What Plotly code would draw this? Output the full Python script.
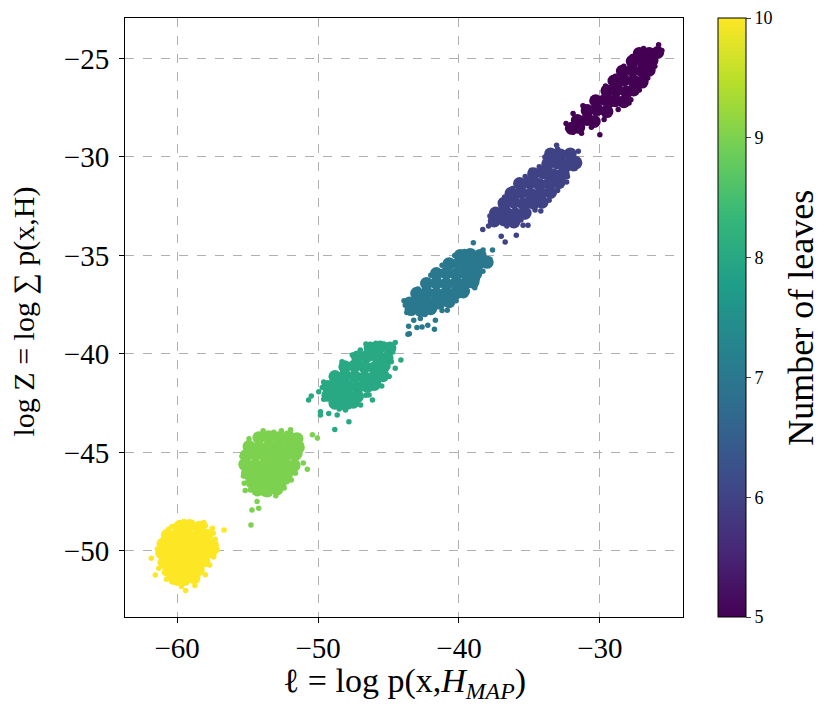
import plotly.graph_objects as go

# number of leaves for each cloud of points
leaves = [5, 6, 7, 8, 9, 10]

# dense middle of every cloud, (l, log Z)
core_5 = [(-27.2, -24.75), (-26.5, -24.75), (-25.9, -24.7),
          (-27.7, -25.15), (-27.0, -25.15), (-26.3, -25.1),
          (-28.4, -25.65), (-27.7, -25.6), (-27.0, -25.65), (-26.5, -25.6),
          (-29.0, -26.15), (-28.3, -26.1), (-27.6, -26.15), (-27.0, -26.2),
          (-29.5, -26.65), (-28.8, -26.6), (-28.1, -26.7), (-27.6, -26.6),
          (-30.3, -27.15), (-29.6, -27.1), (-28.9, -27.15), (-28.3, -27.2),
          (-30.9, -27.65), (-30.2, -27.6), (-29.5, -27.7),
          (-31.6, -28.15), (-30.9, -28.1), (-30.4, -28.2),
          (-32.0, -28.55), (-31.5, -28.5)]
core_6 = [(-33.5, -29.85), (-32.8, -29.9), (-32.1, -29.85),
          (-33.7, -30.35), (-33.0, -30.3), (-32.3, -30.4), (-31.7, -30.3),
          (-34.7, -30.85), (-34.0, -30.8), (-33.3, -30.9), (-32.6, -30.85),
          (-35.7, -31.35), (-35.0, -31.3), (-34.3, -31.4), (-33.6, -31.35), (-32.9, -31.3),
          (-36.3, -31.85), (-35.6, -31.8), (-34.9, -31.9), (-34.2, -31.85), (-33.5, -31.8),
          (-36.8, -32.35), (-36.1, -32.3), (-35.4, -32.4), (-34.7, -32.35), (-34.1, -32.3),
          (-37.4, -32.85), (-36.7, -32.8), (-36.0, -32.9), (-35.3, -32.85),
          (-37.5, -33.25), (-36.8, -33.2), (-36.1, -33.3)]
core_7 = [(-39.9, -35.0), (-39.2, -34.95), (-38.5, -35.0),
          (-40.7, -35.42), (-40.0, -35.4), (-39.3, -35.45), (-38.6, -35.4), (-38.0, -35.35),
          (-41.6, -35.92), (-40.9, -35.9), (-40.2, -35.95), (-39.5, -35.9), (-38.8, -35.92),
          (-42.3, -36.42), (-41.6, -36.4), (-40.9, -36.45), (-40.2, -36.42), (-39.5, -36.4), (-39.0, -36.35),
          (-43.0, -36.92), (-42.3, -36.9), (-41.6, -36.95), (-40.9, -36.92), (-40.2, -36.9), (-39.7, -36.85),
          (-43.5, -37.42), (-42.8, -37.4), (-42.1, -37.45), (-41.4, -37.42), (-40.7, -37.35),
          (-43.4, -37.75), (-42.7, -37.8), (-42.0, -37.7)]
core_8 = [(-46.3, -39.7), (-45.6, -39.65), (-44.9, -39.7),
          (-47.2, -40.15), (-46.5, -40.1), (-45.8, -40.15), (-45.1, -40.2),
          (-48.1, -40.65), (-47.4, -40.6), (-46.7, -40.65), (-46.0, -40.7), (-45.3, -40.6),
          (-48.8, -41.15), (-48.1, -41.1), (-47.4, -41.15), (-46.7, -41.2), (-46.0, -41.15), (-45.4, -41.1),
          (-49.3, -41.65), (-48.6, -41.6), (-47.9, -41.65), (-47.2, -41.7), (-46.5, -41.65), (-46.0, -41.55),
          (-49.3, -42.1), (-48.6, -42.05), (-47.9, -42.1), (-47.2, -42.15),
          (-48.8, -42.5), (-48.1, -42.55), (-47.5, -42.45)]
core_9 = [(-54.2, -44.25), (-53.5, -44.2), (-52.8, -44.25), (-52.1, -44.2), (-51.5, -44.3),
          (-54.9, -44.7), (-54.2, -44.75), (-53.5, -44.7), (-52.8, -44.65), (-52.1, -44.7), (-51.4, -44.75),
          (-55.1, -45.15), (-54.4, -45.1), (-53.7, -45.15), (-53.0, -45.2), (-52.3, -45.15), (-51.6, -45.1),
          (-55.2, -45.6), (-54.5, -45.65), (-53.8, -45.6), (-53.1, -45.55), (-52.4, -45.6), (-51.7, -45.65),
          (-55.0, -46.05), (-54.3, -46.1), (-53.6, -46.05), (-52.9, -46.0), (-52.2, -46.05),
          (-54.7, -46.5), (-54.0, -46.55), (-53.3, -46.5), (-52.6, -46.45),
          (-54.3, -46.9), (-53.6, -46.95), (-52.9, -46.85)]
core_10 = [(-59.8, -48.75), (-59.1, -48.7), (-58.4, -48.8),
           (-60.7, -49.2), (-60.0, -49.15), (-59.3, -49.2), (-58.6, -49.25), (-57.9, -49.2),
           (-61.0, -49.65), (-60.3, -49.6), (-59.6, -49.7), (-58.9, -49.65), (-58.2, -49.6), (-57.5, -49.7),
           (-61.1, -50.1), (-60.4, -50.05), (-59.7, -50.1), (-59.0, -50.15), (-58.3, -50.1), (-57.6, -50.05),
           (-60.9, -50.55), (-60.2, -50.5), (-59.5, -50.6), (-58.8, -50.55), (-58.1, -50.5),
           (-60.6, -51.0), (-59.9, -51.05), (-59.2, -51.0), (-58.5, -50.95),
           (-60.2, -51.4), (-59.5, -51.45), (-58.8, -51.35)]

# scattered points round the edges of every cloud
edge_5 = [(-32.29, -28.54), (-31.9, -28.75), (-30.0, -28.88), (-25.83, -24.31),
          (-26.57, -24.68), (-25.9, -24.64), (-31.14, -27.44), (-29.24, -27.36),
          (-27.93, -27.27), (-27.1, -26.17), (-26.57, -25.49), (-26.14, -25.07),
          (-31.02, -28.03), (-28.52, -25.83), (-27.45, -24.85), (-31.5, -28.29),
          (-30.43, -28.12), (-29.0, -26.93),
          (-32.4, -28.3), (-31.9, -27.8), (-31.2, -27.4), (-30.4, -27.0),
          (-29.6, -26.4), (-28.9, -25.9), (-28.3, -25.4), (-27.7, -24.9),
          (-26.9, -24.5), (-25.6, -24.6), (-26.1, -25.4), (-26.6, -26.0),
          (-27.2, -26.6), (-27.8, -27.1), (-28.7, -27.6), (-29.7, -28.1),
          (-30.6, -28.5), (-31.3, -28.8)]
edge_6 = [(-38.31, -33.69), (-37.0, -34.03), (-36.72, -34.32), (-35.93, -33.98),
          (-35.45, -33.47), (-35.1, -33.47), (-34.19, -32.75), (-33.07, -29.41),
          (-31.53, -29.71), (-35.86, -31.32), (-32.36, -31.27), (-37.6, -32.88),
          (-32.12, -29.75), (-31.76, -30.59), (-32.48, -30.85), (-34.62, -32.54),
          (-35.33, -33.05), (-37.72, -33.31), (-36.76, -32.03), (-34.86, -30.68),
          (-33.55, -29.83),
          (-37.8, -33.0), (-37.9, -33.5), (-37.0, -32.5), (-36.2, -31.6),
          (-35.3, -31.0), (-34.3, -30.5), (-33.9, -30.0), (-33.0, -29.6),
          (-31.6, -30.1), (-31.9, -30.6), (-32.3, -31.0), (-33.0, -31.7),
          (-33.6, -32.2), (-34.6, -32.7), (-35.6, -33.2), (-36.6, -33.5)]
edge_7 = [(-43.57, -38.59), (-43.52, -38.97), (-42.98, -38.66), (-42.62, -38.63),
          (-42.21, -38.54), (-41.74, -38.75), (-43.21, -38.29), (-42.74, -38.2),
          (-41.67, -38.29), (-40.83, -37.78), (-39.64, -36.93), (-38.88, -36.64),
          (-38.98, -34.36), (-37.62, -34.73), (-43.81, -37.53), (-38.29, -34.73),
          (-38.1, -35.41), (-39.52, -36.42), (-40.71, -37.27), (-42.14, -37.86),
          (-43.62, -39.0),
          (-43.9, -37.3), (-43.7, -37.9), (-42.9, -36.7), (-42.0, -36.0),
          (-41.2, -35.5), (-40.3, -35.0), (-39.6, -34.8), (-38.6, -34.85),
          (-37.8, -35.2), (-38.3, -35.8), (-38.7, -36.2), (-39.4, -36.8),
          (-40.2, -37.3), (-41.2, -37.8), (-42.4, -38.0)]
edge_8 = [(-50.67, -42.34), (-50.48, -42.14), (-49.83, -42.93), (-49.83, -43.1),
          (-49.24, -43.02), (-48.64, -43.1), (-47.81, -43.44), (-48.05, -42.85),
          (-46.98, -42.59), (-46.14, -42.34), (-45.48, -41.63), (-44.52, -40.73),
          (-44.12, -40.31), (-44.52, -39.42), (-48.81, -43.83), (-49.95, -41.92),
          (-45.9, -39.46), (-45.31, -39.49), (-47.57, -40.05), (-49.6, -41.42),
          (-46.38, -42.08), (-44.95, -41.15), (-47.81, -42.68),
          (-49.7, -41.7), (-49.6, -42.3), (-48.3, -40.4), (-47.0, -39.8),
          (-46.6, -39.5), (-44.7, -39.9), (-44.8, -40.4), (-45.2, -41.0),
          (-45.7, -41.4), (-46.6, -42.1), (-47.3, -42.5), (-48.5, -42.8)]
edge_9 = [(-54.33, -47.49), (-54.21, -47.83), (-54.69, -47.92), (-54.76, -48.68),
          (-55.17, -46.93), (-50.76, -45.85), (-50.4, -44.1), (-50.05, -44.27),
          (-51.95, -43.85), (-53.14, -43.98), (-51.05, -45.54), (-51.24, -44.27),
          (-55.24, -46.56), (-55.29, -45.54), (-54.52, -44.69), (-52.19, -46.47),
          (-53.38, -46.98), (-53.86, -47.1), (-51.6, -46.05), (-54.1, -44.36),
          (-55.4, -45.2), (-55.3, -46.2), (-54.9, -44.3), (-53.9, -43.9),
          (-52.6, -43.9), (-51.2, -44.6), (-51.3, -45.1), (-51.9, -46.4),
          (-52.4, -46.8), (-53.0, -47.2), (-54.8, -46.9)]
edge_10 = [(-61.55, -51.22), (-59.4, -52.0), (-58.74, -51.75), (-56.67, -48.93),
           (-60.76, -51.44), (-61.83, -50.37), (-57.5, -48.85), (-58.1, -48.56),
           (-60.0, -51.64), (-60.36, -48.76), (-60.95, -49.27), (-57.26, -49.78),
           (-57.14, -49.95), (-57.69, -50.71), (-58.33, -51.05), (-61.3, -50.88),
           (-61.2, -49.78), (-59.52, -48.5), (-59.05, -51.22), (-57.43, -49.1),
           (-61.4, -49.9), (-61.2, -50.6), (-60.6, -48.9), (-58.0, -48.7),
           (-57.3, -49.4), (-57.4, -50.3), (-58.0, -51.2), (-60.9, -51.1),
           (-59.7, -51.8), (-58.6, -51.5)]

x_ticks = [-60, -50, -40, -30]
y_ticks = [-25, -30, -35, -40, -45, -50]
cbar_ticks = [5, 6, 7, 8, 9, 10]

cores = [core_5, core_6, core_7, core_8, core_9, core_10]
edges = [edge_5, edge_6, edge_7, edge_8, edge_9, edge_10]

def flatten(groups):
    xs, ys, cs = [], [], []
    for n, pts in zip(leaves, groups):
        for px, py in pts:
            xs.append(px)
            ys.append(py)
            cs.append(n)
    return xs, ys, cs

font = "Liberation Serif"

fig = go.Figure()

cx, cy, cc = flatten(cores)
fig.add_trace(go.Scatter(
    x=cx, y=cy, mode="markers", hoverinfo="skip",
    marker=dict(size=13, color=cc, colorscale="Viridis", cmin=5, cmax=10,
                showscale=False, line=dict(width=0)),
))

ex, ey, ec = flatten(edges)
fig.add_trace(go.Scatter(
    x=ex, y=ey, mode="markers",
    marker=dict(size=5.5, color=ec, colorscale="Viridis", cmin=5, cmax=10,
                line=dict(width=0), showscale=True,
                colorbar=dict(
                    x=1.063, xanchor="left", xpad=0, y=0.5, yanchor="middle", ypad=0,
                    len=1, lenmode="fraction", thickness=28,
                    outlinewidth=1, outlinecolor="black",
                    tickvals=cbar_ticks, ticks="outside", ticklen=5,
                    tickfont=dict(family=font, size=18, color="black"),
                )),
))

axis = dict(showline=True, linecolor="black", linewidth=1, mirror=True,
            ticks="outside", ticklen=5, tickcolor="black", automargin=False,
            showgrid=True, gridcolor="#b0b0b0", griddash="dash", gridwidth=1,
            zeroline=False, tickfont=dict(family=font, size=29, color="black"))

# the page adds an 8 px body margin, so the figure is 16 px smaller than the window
fig.update_layout(
    width=814, height=696,
    margin=dict(l=117, r=139, t=10, b=87),
    plot_bgcolor="white", paper_bgcolor="white",
    showlegend=False,
    xaxis=dict(axis, range=[-63.7, -24.1], tickvals=x_ticks, ticklabelstandoff=0),
    yaxis=dict(axis, range=[-53.35, -22.95], tickvals=y_ticks, ticklabelstandoff=4),
    annotations=[
        dict(text="ℓ = log p(x,<i>H</i><sub><i>MAP</i></sub>)",
             xref="paper", yref="paper", x=0.5, y=-0.11,
             xanchor="center", yanchor="middle", showarrow=False,
             font=dict(family=font, size=34, color="black")),
        dict(text="log Z = log ∑ p(x,H)",
             xref="paper", yref="paper", x=-0.181, y=0.51, textangle=-90,
             xanchor="center", yanchor="middle", showarrow=False,
             font=dict(family=font, size=30, color="black")),
        dict(text="Number of leaves",
             xref="paper", yref="paper", x=1.21, y=0.5, textangle=-90,
             xanchor="center", yanchor="middle", showarrow=False,
             font=dict(family=font, size=36, color="black")),
    ],
)

fig.write_html("out.html")
